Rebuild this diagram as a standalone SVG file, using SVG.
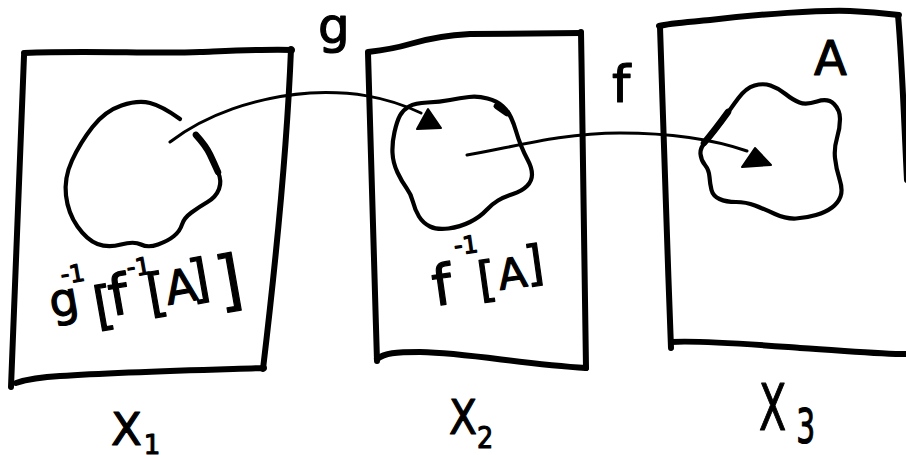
<svg xmlns="http://www.w3.org/2000/svg" width="906" height="455" viewBox="0 0 906 455">
<style>
.frame{fill:none;stroke:#000;stroke-width:6;stroke-linecap:round;stroke-linejoin:round}
.blob{fill:none;stroke:#000;stroke-width:4.2;stroke-linecap:round;stroke-linejoin:round}
.thick{fill:none;stroke:#000;stroke-width:6.5;stroke-linecap:round}
.conn{fill:none;stroke:#000;stroke-width:3;stroke-linecap:round}
.head{fill:#000;stroke:#000;stroke-width:2;stroke-linejoin:round}
.t{font-family:"DejaVu Sans","Liberation Sans",sans-serif;fill:#000;stroke:#000;stroke-width:1.2;stroke-linejoin:round}
</style>
<rect width="906" height="455" fill="#fff"/>
<g id="box-x1">
<path class="frame" d="M24,53 C90,50 150,54 200,52 S270,49 292,50"/>
<path class="frame" d="M291,49 C287,150 276,260 263,369"/>
<path class="frame" d="M264,368 C200,370 120,372 60,376 C40,377 25,380 16,383"/>
<path class="frame" d="M24,56 C19,170 15,280 11,387"/>
<path class="blob" d="M195,134 Q206,146 210,154.5 Q214,163 218,172 Q222,181 219,189 Q216,197 207.5,202 Q199,207 191.5,212.5 Q184,218 182,224.5 Q180,231 174,236 Q168,241 158,244.5 Q148,248 141,244.5 Q134,241 121,244.5 Q108,248 97.5,244 Q87,240 77.5,226.5 Q68,213 66,195.5 Q64,178 72,160.5 Q80,143 92.5,127 Q105,111 121.5,105.5 Q138,100 150,103 Q162,106 180,119"/>
<path class="thick" d="M196,135 Q206,146 210,154.5 Q214,163 218,172"/>
<text class="t" font-size="46"><tspan x="52" y="318" rotate="-10">g</tspan><tspan font-size="24" x="62" y="283" rotate="-10">-1</tspan><tspan font-size="52" x="97" y="325" rotate="-10">[</tspan><tspan font-size="56" x="112" y="316" rotate="-10">f</tspan><tspan font-size="24" x="128" y="276" rotate="-10">-1</tspan><tspan font-size="52" x="150" y="312" rotate="-10">[</tspan><tspan font-size="46" x="168" y="305" rotate="-10">A</tspan><tspan font-size="52" x="192" y="298" rotate="-10">]</tspan><tspan font-size="66" x="220" y="305" rotate="-10">]</tspan></text>
<text class="t" font-size="45" x="111" y="445">X<tspan font-size="26" dx="2" y="454">1</tspan></text>
</g>
<g id="box-x2">
<path class="frame" d="M368,52 C385,50 400,47 410,44 C430,38 450,35 470,34 L581,33"/>
<path class="frame" d="M581,32 C583,150 585,270 586,368"/>
<path class="frame" d="M377,359 C385,353 395,352 420,352 C470,353 520,364 586,368"/>
<path class="frame" d="M368,53 C371,160 374,260 377,361"/>
<path class="blob" d="M400,115.5 Q403,110 409,106.5 Q415,103 427.5,102.5 Q440,102 450,100 Q460,98 469,97 Q478,96 487.5,98.5 Q497,101 502.5,106 Q508,111 511,117.5 Q514,124 516,131 Q518,138 521,145.5 Q524,153 528,160.5 Q532,168 532,174.5 Q532,181 527,186 Q522,191 513,194 Q504,197 498,200.5 Q492,204 486,210.5 Q480,217 470,222 Q460,227 448.5,228.5 Q437,230 430,226.5 Q423,223 419,216.5 Q415,210 413,202 Q411,194 406.5,188 Q402,182 397.5,172.5 Q393,163 392.5,153 Q392,143 394.5,132 Q397,121 400,115.5 Z"/>
<path class="thick" d="M497,106 L507,113"/>
<text class="t" font-size="56"><tspan x="435" y="306" rotate="-8">f</tspan><tspan font-size="24" x="455" y="254" rotate="-8">-1</tspan><tspan font-size="48" x="480" y="297" rotate="-8">[</tspan><tspan font-size="42" x="500" y="290" rotate="-8">A</tspan><tspan font-size="48" x="527" y="281" rotate="-8">]</tspan></text>
<text class="t" font-size="48" transform="translate(449,434) scale(0.85,1)">X<tspan font-size="30" x="33" y="14">2</tspan></text>
</g>
<g id="box-x3">
<path class="frame" d="M659,26 C670,23 690,22 710,20 C760,14 820,10 850,11 C870,12 890,14 899,15"/>
<path class="frame" d="M898,15 C902,60 904,120 907,180"/>
<path class="frame" d="M671,342 C700,340 760,345 800,348 C850,351 880,354 906,354"/>
<path class="frame" d="M660,27 C663,130 667,240 671,348"/>
<path class="blob" d="M700.5,154 Q700,148 705,142.5 Q710,137 715.5,130 Q721,123 726,115.5 Q731,108 738.5,98 Q746,88 754.5,85.5 Q763,83 770.5,85.5 Q778,88 785.5,94 Q793,100 799.5,102.5 Q806,105 817,101.5 Q828,98 834,104 Q840,110 840,119 Q840,128 837,138 Q834,148 835,158 Q836,168 839.5,179 Q843,190 840.5,196.5 Q838,203 832,207.5 Q826,212 816,215 Q806,218 796,218.5 Q786,219 775,214 Q764,209 755,205.5 Q746,202 736,202 Q726,202 719.5,199 Q713,196 711.5,190 Q710,184 709.5,177 Q709,170 705,165 Q701,160 700.5,154 Z"/>
<path class="thick" d="M704,143 Q715,130 728,112"/>
<text class="t" font-size="48" x="814" y="75">A</text>
<text class="t" font-size="64" transform="translate(759,430) scale(0.62,1)">X<tspan font-size="48" x="60" y="13">3</tspan></text>
</g>
<g id="connectors">
<path class="conn" d="M170,142 C205,115 255,97 310,93 C350,91 385,96 421,113"/>
<polygon class="head" points="428,109 417,129 441,128"/>
<text class="t" font-size="50" x="318" y="43">g</text>
<path class="conn" d="M467,155 C510,148 560,133 620,133 C670,133 715,140 747,151"/>
<polygon class="head" points="755,148 742,167 771,165"/>
<text class="t" font-size="52" x="612" y="102">f</text>
</g>
</svg>
